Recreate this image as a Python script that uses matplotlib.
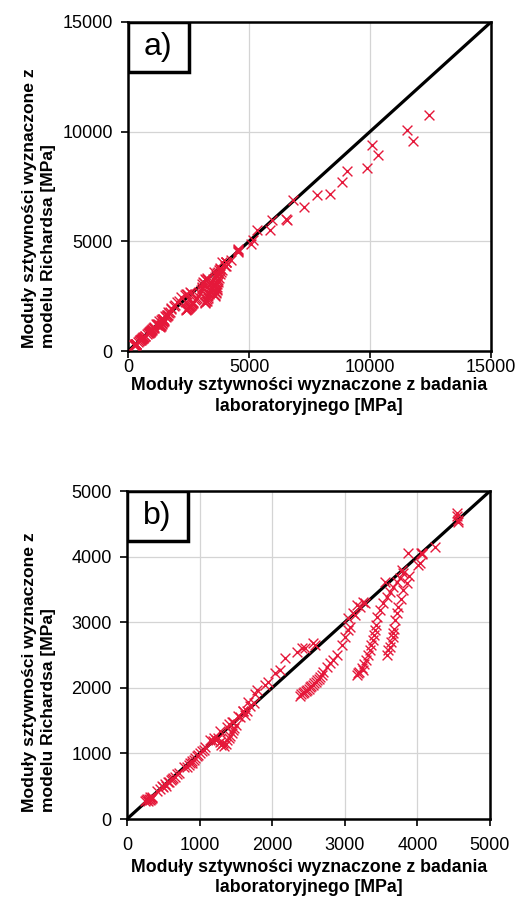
from matplotlib import pyplot as plt
from matplotlib.patches import Rectangle
import numpy as np

plt.rcParams['font.family'] = ['Liberation Sans', 'DejaVu Sans']

# laboratory stiffness modulus [MPa] vs modulus from Richards model [MPa]
lab_low = [250, 265, 280, 290, 300, 310, 320, 330, 340, 350,
           420, 450, 480, 500, 520, 540, 560, 580, 600, 620, 640, 660, 690, 720,
           780, 820, 850, 870, 890, 900, 920, 940, 960, 980, 1000, 1030, 1060, 1080,
           1150, 1180, 1200, 1220, 1250, 1280, 1300, 1320, 1340, 1360, 1380, 1400,
           1420, 1440, 1460, 1480, 1500, 1400, 1450, 1550, 1600, 1620, 1650, 1700]
mod_low = [270, 285, 300, 280, 310, 295, 330, 305, 320, 340,
           420, 460, 500, 490, 530, 510, 560, 570, 590, 610, 630, 640, 690, 700,
           790, 800, 830, 860, 850, 880, 900, 930, 960, 980, 1010, 1030, 1050, 1090,
           1210, 1190, 1230, 1200, 1240, 1180, 1130, 1160, 1110, 1150, 1200, 1240,
           1270, 1310, 1350, 1390, 1430, 1450, 1480, 1560, 1640, 1590, 1650, 1720]

lab_diag = [1281, 1373, 1465, 1534, 1602, 1671, 1743, 1763, 1786, 1901, 1947, 2039,
            2107, 2176, 2337, 2406, 2452, 2566, 2590, 3049, 3140, 3165, 3209, 3257,
            3278, 3554, 3784, 3875, 4014, 4036, 4059, 4070, 4050, 4242, 4541, 4564, 4555]
mod_diag = [1347, 1397, 1474, 1576, 1652, 1789, 1766, 1900, 1966, 2043, 2093, 2221,
            2271, 2449, 2551, 2602, 2601, 2678, 2652, 3059, 3110, 3264, 3237, 3315,
            3287, 3618, 3796, 4050, 3873, 3897, 4050, 4040, 4060, 4152, 4660, 4533, 4560]

# three hooks below the 1:1 line
lab_c1 = [2385, 2400, 2420, 2440, 2460, 2480, 2500, 2521, 2540, 2560, 2580, 2600,
          2617, 2640, 2660, 2680, 2704, 2750, 2796, 2840, 2888, 2957, 3003, 3049, 3072, 3119]
mod_c1 = [1880, 1900, 1916, 1930, 1950, 1965, 1985, 2018, 2030, 2050, 2070, 2090,
          2119, 2140, 2170, 2200, 2246, 2310, 2373, 2430, 2500, 2652, 2780, 2881, 2934, 3137]

lab_c2 = [3165, 3180, 3200, 3239, 3250, 3265, 3292, 3320, 3347, 3365, 3382, 3400,
          3420, 3430, 3444, 3490, 3531, 3580, 3623, 3670, 3715, 3761, 3807]
mod_c2 = [2198, 2230, 2240, 2297, 2270, 2360, 2424, 2500, 2576, 2650, 2729, 2800,
          2881, 2950, 3085, 3180, 3288, 3380, 3466, 3540, 3618, 3680, 3745]

lab_c3 = [3578, 3600, 3624, 3640, 3660, 3670, 3680, 3693, 3715, 3739, 3770, 3807,
          3853, 3880]
mod_c3 = [2503, 2570, 2629, 2700, 2780, 2832, 2900, 3035, 3140, 3239, 3350, 3492,
          3600, 3700]

# values above 5000 MPa (visible only in panel a)
lab_high = [4552, 5103, 5172, 5310, 5862, 5931, 6524, 6552, 6800, 7283, 7793,
            8345, 8855, 9062, 9890, 10097, 10345, 11517, 11793, 12455]
mod_high = [4620, 4893, 5046, 5502, 5502, 5957, 6033, 5957, 6900, 6565, 7097,
            7173, 7705, 8207, 8359, 9377, 8921, 10061, 9574, 10745]

lab = np.array(lab_low + lab_diag + lab_c1 + lab_c2 + lab_c3 + lab_high)
mod = np.array(mod_low + mod_diag + mod_c1 + mod_c2 + mod_c3 + mod_high)

xlabel = ['Moduły sztywności wyznaczone z badania', 'laboratoryjnego [MPa]']
ylabel = ['Moduły sztywności wyznaczone z', 'modelu Richardsa [MPa]']

W, H = 526, 899
fig = plt.figure(figsize=(W / 100, H / 100), dpi=100)
ax_a = fig.add_axes([128 / W, 1 - 351 / H, 363 / W, 329 / H])
ax_b = fig.add_axes([127 / W, 1 - 819 / H, 363 / W, 328 / H])


def draw(ax, vmax, step, tag, xpad, xl_y, yl_bottom):
    ax.set_xlim(0, vmax)
    ax.set_ylim(0, vmax)
    ax.set_xticks(np.arange(0, vmax + 1, step))
    ax.set_yticks(np.arange(0, vmax + 1, step))
    ax.grid(True, color='#d4d4d4', linewidth=0.9)
    ax.set_axisbelow(True)
    ax.plot([0, vmax], [0, vmax], color='black', linewidth=2.3, zorder=3)
    ax.scatter(lab, mod, marker='x', s=50, color='#e5183a', linewidths=1.0,
               zorder=4)
    for sp in ax.spines.values():
        sp.set_linewidth(1.8)
    ax.tick_params(direction='out', length=5, width=1.2, labelsize=13)
    ax.tick_params(axis='y', pad=6)
    ax.tick_params(axis='x', pad=xpad)
    # axis titles, placed in pixels like the original
    for i, line in enumerate(xlabel):
        fig.text(309 / W, 1 - (xl_y + 20 * i) / H, line, fontsize=12.8,
                 fontweight='bold', ha='center', va='center')
    for i, line in enumerate(ylabel):
        fig.text((30 + 19 * i) / W, 1 - yl_bottom / H, line, fontsize=12.6,
                 fontweight='bold', rotation=90, ha='center', va='bottom')
    ax.add_patch(Rectangle((0, 1 - 50 / 329), 61 / 363, 50 / 329,
                           transform=ax.transAxes, facecolor='white',
                           edgecolor='black', linewidth=2.5, zorder=6))
    ax.text(30 / 363, 1 - 25 / 329, tag, transform=ax.transAxes,
            fontsize=23, ha='center', va='center', zorder=7)


draw(ax_a, 15000, 5000, 'a)', 1, 386, 348)
draw(ax_b, 5000, 1000, 'b)', 8, 868, 812)

fig.savefig('out.png', dpi=100)
